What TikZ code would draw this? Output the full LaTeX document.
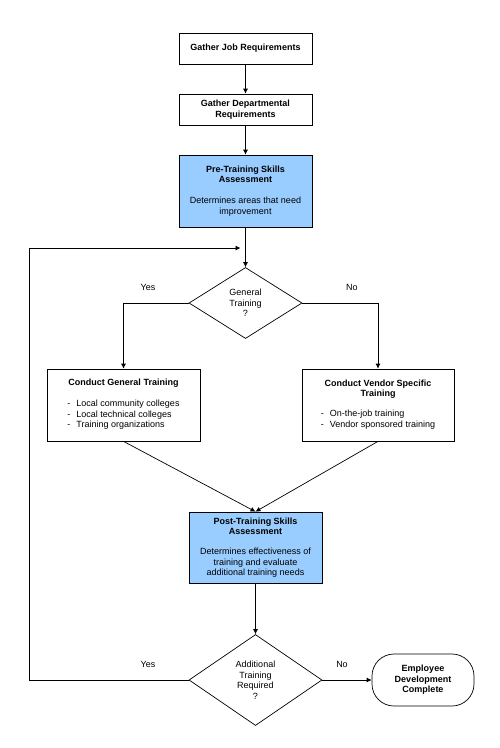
\documentclass[tikz,border=0pt]{standalone}
\usepackage{fontspec}
\setmainfont{Liberation Sans}
\usetikzlibrary{shapes.geometric,arrows.meta}
\definecolor{assessblue}{RGB}{153,204,255}
\begin{document}
\begin{tikzpicture}[x=1pt, y=-1pt, line width=0.7pt,
    font=\fontsize{9}{10.5}\selectfont,
    box/.style={draw, fill=white, align=center, inner sep=0pt, minimum width=133pt},
    assess/.style={box, fill=assessblue},
    choice/.style={draw, diamond, align=center, inner sep=0pt},
    arr/.style={-{Latex[length=5pt, width=5pt]}}]
  \useasboundingbox (0,0) rectangle (500,748);
  \node[box, minimum height=31pt] (job) at (245.5,48.5)
       {\textbf{Gather Job Requirements}};
  \node[box, minimum height=31pt] (dept) at (245.5,109.5)
       {\textbf{Gather Departmental}\\\textbf{Requirements}};
  \node[assess, minimum height=72pt] (pre) at (245.5,191)
       {\textbf{Pre-Training Skills}\\\textbf{Assessment}\\[10.5pt]
        Determines areas that need\\improvement};
  \node[choice, minimum width=113pt, minimum height=71pt] (gent) at (245.5,303)
       {General\\Training\\?};
  \node[box, minimum width=153pt, minimum height=72pt] (gen) at (123.5,405)
       {\textbf{Conduct General Training}\\[10.5pt]
        \begin{tabular}[t]{@{}l@{\hspace{6pt}}l@{}}
          - & Local community colleges\\
          - & Local technical colleges\\
          - & Training organizations
        \end{tabular}};
  \node[box, minimum width=152pt, minimum height=72pt] (vendor) at (378,405)
       {\textbf{Conduct Vendor Specific}\\\textbf{Training}\\[9.5pt]
        \begin{tabular}[t]{@{}l@{\hspace{6pt}}l@{}}
          - & On-the-job training\\
          - & Vendor sponsored training
        \end{tabular}};
  \node[assess, minimum height=71pt] (post) at (255.5,547.5)
       {\textbf{Post-Training Skills}\\\textbf{Assessment}\\[9.5pt]
        Determines effectiveness of\\training and evaluate\\additional training needs};
  \node[choice, minimum width=133pt, minimum height=91pt] (more) at (255.5,680)
       {Additional\\Training\\Required\\?};
  \node[box, minimum width=102pt, minimum height=52pt, rounded corners=22pt] (done) at (423,680)
       {\textbf{Employee}\\\textbf{Development}\\\textbf{Complete}};
  \node (yes1) at (148,287) {Yes};
  \node (no1)  at (352,287) {No};
  \node (yes2) at (148,664) {Yes};
  \node (no2)  at (342,664) {No};
  \coordinate (loop) at (29,248);
  \coordinate (back) at (240.5,248);
  \draw[arr] (job) -- (dept);
  \draw[arr] (dept) -- (pre);
  \draw[arr] (pre) -- (gent);
  \draw[arr] (gent.west) -| (gen);
  \draw[arr] (gent.east) -| (vendor);
  \draw[arr] (gen.south) -- (post.north);
  \draw[arr] (vendor.south) -- (post.north);
  \draw[arr] (post) -- (more);
  \draw[arr] (more) -- (done);
  \draw[arr] (more.west) -| (loop) -- (back);
\end{tikzpicture}
\end{document}
